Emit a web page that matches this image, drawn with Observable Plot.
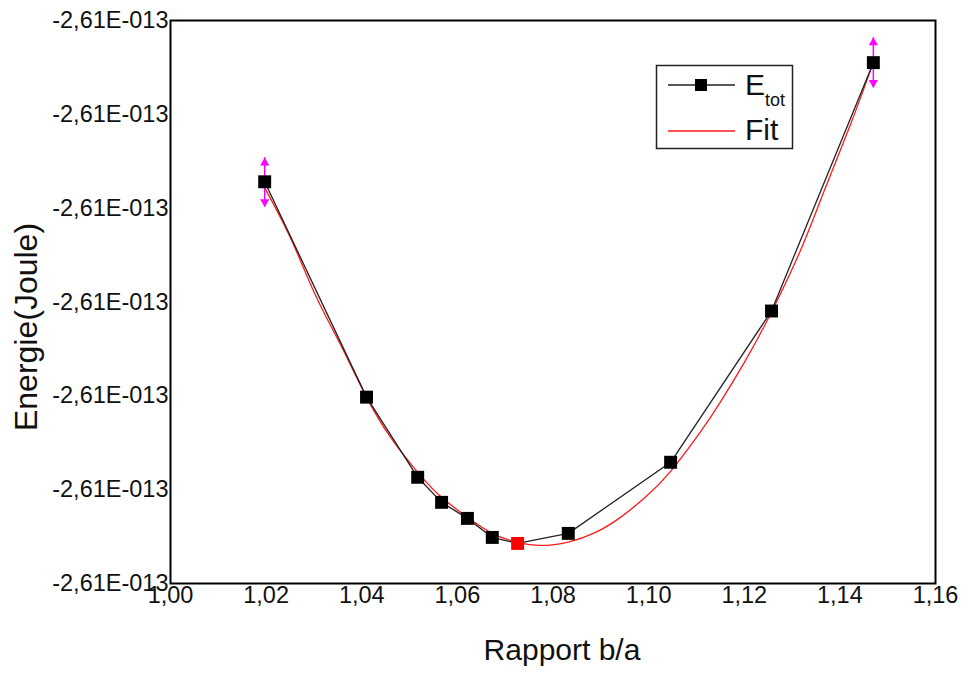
<!DOCTYPE html>
<html>
<head>
<meta charset="utf-8">
<script src="https://cdn.jsdelivr.net/npm/d3@7"></script>
<script src="https://cdn.jsdelivr.net/npm/@observablehq/plot@0.6"></script>
<style>
  body { margin: 0; background: #fff; font-family: "Liberation Sans", Arial, sans-serif; }
  #wrap { position: relative; width: 962px; height: 675px; }
  #legend { position: absolute; left: 0; top: 0; pointer-events: none; }
</style>
</head>
<body>
<div id="wrap"></div>
<script>
// Ratio b/a of the computed points
const ratio = [1.0197, 1.0410, 1.0517, 1.0567, 1.0621, 1.0673, 1.0726, 1.0832, 1.1046, 1.1257, 1.1470];
// Total energy, expressed in tick steps above the lowest "-2,61E-013" tick (all ticks print the same rounded value)
const energy = [4.281, 1.986, 1.132, 0.865, 0.694, 0.491, 0.427, 0.534, 1.292, 2.904, 5.551];
// Index of the highlighted (minimum) point
const minIndex = 6;
// Error bars on the end points
const errRatio = [1.0197, 1.1470];
const errLow = [4.014, 5.285];
const errHigh = [4.537, 5.818];
// Fit curve
const fitRatio = [1.0197, 1.0251, 1.0303, 1.0356, 1.0410, 1.0460, 1.0517, 1.0567, 1.0621, 1.0673, 1.0726, 1.0774, 1.0832, 1.0889, 1.0941, 1.0993, 1.1046, 1.1108, 1.1150, 1.1203, 1.1257, 1.1318, 1.1364, 1.1422, 1.1470];
const fitEnergy = [4.217, 3.683, 3.075, 2.541, 1.986, 1.559, 1.185, 0.918, 0.705, 0.534, 0.438, 0.406, 0.442, 0.544, 0.705, 0.918, 1.195, 1.612, 1.932, 2.381, 2.893, 3.555, 4.142, 4.890, 5.551];
// Axis ticks
const xTicks = [1.00, 1.02, 1.04, 1.06, 1.08, 1.10, 1.12, 1.14, 1.16];
const yTicks = [0, 1, 2, 3, 4, 5, 6];
const yTickLabel = "-2,61E-013";
const xTitle = "Rapport b/a";
const yTitle = "Energie(Joule)";
const legendLabels = ["E", "tot", "Fit"];

const pts = ratio.map((x, i) => ({x, y: energy[i], min: i === minIndex}));
const fit = fitRatio.map((x, i) => ({x, y: fitEnergy[i]}));
const errs = errRatio.map((x, i) => ({x, lo: errLow[i], hi: errHigh[i]}));

const chart = Plot.plot({
  width: 962,
  height: 675,
  marginLeft: 170,
  marginRight: 27,
  marginTop: 20,
  marginBottom: 92,
  style: {fontFamily: "Liberation Sans, Arial, sans-serif", fontSize: "23.5px", color: "#111", background: "#fff"},
  x: {domain: [1.00, 1.16], ticks: xTicks, tickFormat: d => d.toFixed(2).replace(".", ","), tickSize: 0, tickPadding: 3, label: null},
  y: {domain: [0, 6], ticks: yTicks, tickFormat: () => yTickLabel, tickSize: 0, tickPadding: 2, label: null},
  marks: [
    Plot.line(fit, {x: "x", y: "y", stroke: "#ff1a1a", strokeWidth: 1.3, curve: "natural"}),
    Plot.line(pts, {x: "x", y: "y", stroke: "#222", strokeWidth: 1.3}),
    Plot.ruleX(errs, {x: "x", y1: "lo", y2: "hi", stroke: "#ff00ff", strokeWidth: 1.5}),
    Plot.dot(errs, {x: "x", y: "hi", symbol: "triangle", r: 3.4, fill: "#ff00ff", dy: 5}),
    Plot.dot(errs, {x: "x", y: "lo", symbol: "triangle", r: 3.4, fill: "#ff00ff", dy: -5, rotate: 180}),
    Plot.dot(pts, {x: "x", y: "y", symbol: "square", r: 7.3, fill: d => d.min ? "#ff0000" : "#000", stroke: null}),
    Plot.frame({stroke: "#000", strokeWidth: 2}),
    Plot.text([xTitle], {frameAnchor: "bottom", textAnchor: "middle", text: d => d, dy: 76, dx: 9, fontSize: 30, fill: "#111"}),
    Plot.text([yTitle], {frameAnchor: "left", textAnchor: "middle", text: d => d, rotate: -90, dx: -144, dy: 25, fontSize: 32, fill: "#111"})
  ]
});
document.getElementById("wrap").appendChild(chart);

// Legend box
const ns = "http://www.w3.org/2000/svg";
const lg = document.createElementNS(ns, "svg");
lg.setAttribute("id", "legend");
lg.setAttribute("width", 962);
lg.setAttribute("height", 675);
lg.innerHTML = `
  <rect x="656.5" y="65.5" width="136" height="83" fill="#fff" stroke="#222" stroke-width="1.5"/>
  <line x1="668" y1="85" x2="735" y2="85" stroke="#222" stroke-width="1.3"/>
  <rect x="695" y="79" width="12" height="12" fill="#000"/>
  <text x="745" y="95" font-family="Liberation Sans, Arial, sans-serif" font-size="30" fill="#111">${legendLabels[0]}<tspan font-size="18" dy="11">${legendLabels[1]}</tspan></text>
  <line x1="668" y1="131" x2="735" y2="131" stroke="#ff1a1a" stroke-width="1.3"/>
  <text x="745" y="140" font-family="Liberation Sans, Arial, sans-serif" font-size="30" fill="#111">${legendLabels[2]}</text>
`;
document.getElementById("wrap").appendChild(lg);
</script>
</body>
</html>
